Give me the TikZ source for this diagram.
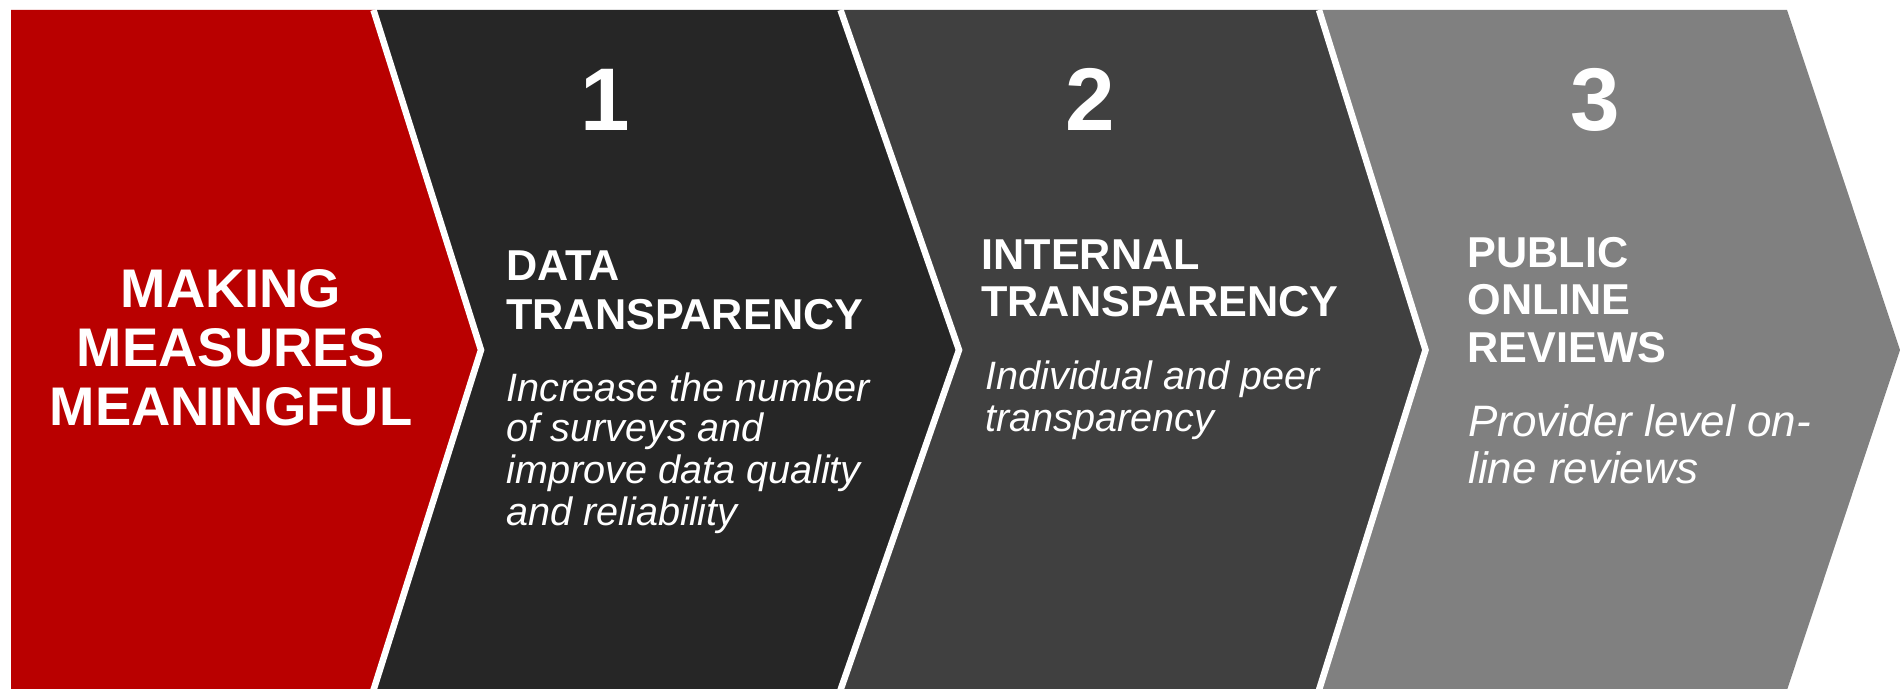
\documentclass[tikz,border=0pt]{standalone}
\usepackage{fontspec}
\setmainfont{Liberation Sans}
\definecolor{cred}{RGB}{185,0,0}
\definecolor{cdarka}{RGB}{38,38,38}
\definecolor{cdarkb}{RGB}{64,64,64}
\definecolor{cgray}{RGB}{128,128,128}
\begin{document}
\begin{tikzpicture}[x=0.5pt,y=-0.5pt,
  sepline/.style={draw=white,line width=3.25pt,miter limit=10},
  redtxt/.style={text=white,font=\fontsize{27.2}{30}\selectfont\bfseries,inner sep=0pt,anchor=base},
  numtxt/.style={text=white,font=\fontsize{44.5}{48}\selectfont\bfseries,inner sep=0pt,anchor=base},
  ttl/.style={text=white,font=\fontsize{21.6}{24}\selectfont\bfseries,inner sep=0pt,anchor=base west},
  dsc/.style={text=white,font=\fontsize{19.8}{22}\selectfont\itshape,inner sep=0pt,anchor=base west},
  dscb/.style={text=white,font=\fontsize{22}{24}\selectfont\itshape,inner sep=0pt,anchor=base west}]
\useasboundingbox (0,0) rectangle (1900,689);
% boundary points
\coordinate (l0t) at (11,10);     \coordinate (l0b) at (11,690);
\coordinate (b1t) at (373.5,10);  \coordinate (b1m) at (481,350);    \coordinate (b1b) at (373.5,690);
\coordinate (b2t) at (840.5,10);  \coordinate (b2m) at (959,350);    \coordinate (b2b) at (840.5,690);
\coordinate (b3t) at (1319,10);   \coordinate (b3m) at (1425.5,350); \coordinate (b3b) at (1319,690);
\coordinate (b4t) at (1787,10);   \coordinate (b4m) at (1900,350);   \coordinate (b4b) at (1787,690);
% chevrons
\fill[cred]   (l0t) -- (b1t) -- (b1m) -- (b1b) -- (l0b) -- cycle;
\fill[cdarka] (b1t) -- (b2t) -- (b2m) -- (b2b) -- (b1b) -- (b1m) -- cycle;
\fill[cdarkb] (b2t) -- (b3t) -- (b3m) -- (b3b) -- (b2b) -- (b2m) -- cycle;
\fill[cgray]  (b3t) -- (b4t) -- (b4m) -- (b4b) -- (b3b) -- (b3m) -- cycle;
% white separators
\draw[sepline] (b1t) -- (b1m) -- (b1b);
\draw[sepline] (b2t) -- (b2m) -- (b2b);
\draw[sepline] (b3t) -- (b3m) -- (b3b);
% red chevron text
\node[redtxt] (r1) at (231,308) {MAKING};
\node[redtxt] (r2) at (231,367) {MEASURES};
\node[redtxt] (r3) at (231,426) {MEANINGFUL};
% numbers
\node[numtxt] (n1) at (605,130.5) {1};
\node[numtxt] (n2) at (1090,130.5) {2};
\node[numtxt] (n3) at (1595,130.5) {3};
% chevron 1
\node[ttl] (a1) at (506,281) {DATA};
\node[ttl] (a2) at (506,329.5) {TRANSPARENCY};
\node[dsc] (a3) at (506,401) {Increase the number};
\node[dsc] (a4) at (506,442) {of surveys and};
\node[dsc] (a5) at (506,483.5) {improve data quality};
\node[dsc] (a6) at (506,525) {and reliability};
% chevron 2
\node[ttl] (c1) at (981,270) {INTERNAL};
\node[ttl] (c2) at (981,317) {TRANSPARENCY};
\node[dsc] (c3) at (985,390) {Individual and peer};
\node[dsc] (c4) at (985,431) {transparency};
% chevron 3
\node[ttl] (d1) at (1467,268) {PUBLIC};
\node[ttl] (d2) at (1467,315) {ONLINE};
\node[ttl] (d3) at (1467,363) {REVIEWS};
\node[dscb] (d4) at (1468,437) {Provider level on-};
\node[dscb] (d5) at (1468,483) {line reviews};
\end{tikzpicture}
\end{document}
